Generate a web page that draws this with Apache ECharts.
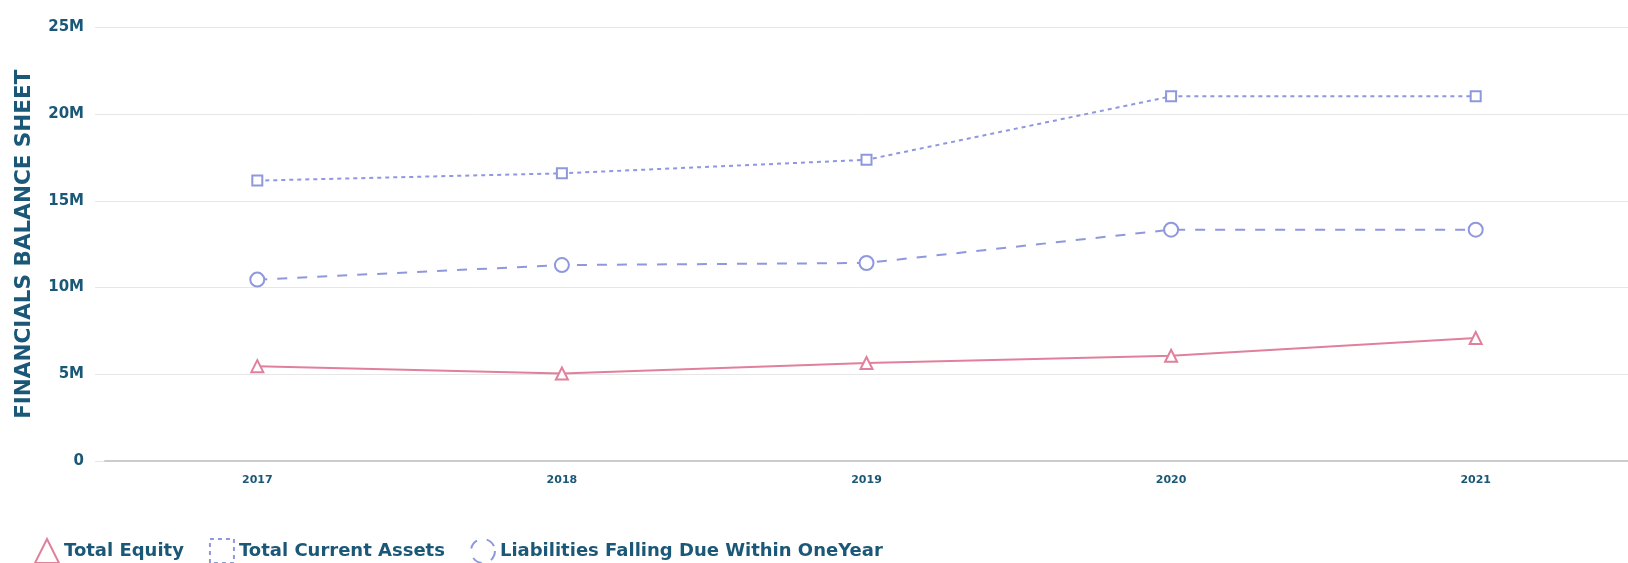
<!DOCTYPE html>
<html><head><meta charset="utf-8">
<script src="https://cdn.jsdelivr.net/npm/echarts@6/dist/echarts.min.js"></script>
<style>html,body{margin:0;padding:0;background:#fff}#c{width:1628px;height:563px}</style>
</head><body><div id="c"></div>
<script>
const categories = ['2017','2018','2019','2020','2021'];
const totalEquity = [5.47e6, 5.05e6, 5.65e6, 6.07e6, 7.09e6];
const totalCurrentAssets = [16.17e6, 16.59e6, 17.37e6, 21.03e6, 21.03e6];
const liabilities = [10.46e6, 11.3e6, 11.42e6, 13.34e6, 13.34e6];
const yTicks = [0, 5e6, 10e6, 15e6, 20e6, 25e6];

const txt = '#1b5877';
const pink = '#e0809c';
const blue = '#8f98dc';
const fmt = v => v === 0 ? '0' : (v/1e6) + 'M';
const chart = echarts.init(document.getElementById('c'));
chart.setOption({
  animation:false,
  grid:[
    {left:105,width:1527,top:27.5,bottom:102},
    {left:95,right:0,top:27.5,bottom:102}
  ],
  xAxis:[
    {type:'category',data:categories,gridIndex:0,boundaryGap:true,
     axisLine:{lineStyle:{color:'#cccccc',width:2}},axisTick:{show:false},
     axisLabel:{color:txt,fontWeight:'bold',fontSize:11,margin:14,fontFamily:'DejaVu Sans'}},
    {type:'value',gridIndex:1,show:false,min:0,max:1}
  ],
  yAxis:[
    {type:'value',gridIndex:0,min:yTicks[0],max:yTicks[yTicks.length-1],interval:5e6,
     name:'FINANCIALS BALANCE SHEET',nameLocation:'middle',nameGap:70,
     nameTextStyle:{color:txt,fontWeight:'bold',fontSize:21.5,fontFamily:'DejaVu Sans'},
     axisLine:{show:false},axisTick:{show:false},splitLine:{show:false},
     axisLabel:{color:txt,fontWeight:'bold',fontSize:15,margin:21,formatter:fmt,fontFamily:'DejaVu Sans'}},
    {type:'value',gridIndex:1,min:yTicks[0],max:yTicks[yTicks.length-1],interval:5e6,
     axisLine:{show:false},axisTick:{show:false},axisLabel:{show:false},
     splitLine:{lineStyle:{color:'#e6e6e6',width:1}}}
  ],
  legend:{
    left:29,bottom:-6,itemWidth:24,itemHeight:24,itemGap:25,
    textStyle:{color:txt,fontWeight:'bold',fontSize:18,fontFamily:'DejaVu Sans'},
    data:[
      {name:'Total Equity',icon:'triangle',itemStyle:{color:'#fff',borderColor:pink,borderWidth:2}},
      {name:'Total Current Assets',icon:'rect',itemStyle:{color:'#fff',borderColor:blue,borderWidth:2,borderType:[4,4]}},
      {name:'Liabilities Falling Due Within OneYear',icon:'circle',itemStyle:{color:'#fff',borderColor:blue,borderWidth:2,borderType:[10,10]}}
    ]
  },
  series:[
    {name:'Total Equity',type:'line',data:totalEquity,xAxisIndex:0,yAxisIndex:0,
     symbol:'triangle',symbolSize:12,
     lineStyle:{color:pink,width:2},itemStyle:{color:'#fff',borderColor:pink,borderWidth:2}},
    {name:'Total Current Assets',type:'line',data:totalCurrentAssets,xAxisIndex:0,yAxisIndex:0,
     symbol:'rect',symbolSize:10,
     lineStyle:{color:blue,width:2,type:[4,4]},itemStyle:{color:'#fff',borderColor:blue,borderWidth:2}},
    {name:'Liabilities Falling Due Within OneYear',type:'line',data:liabilities,xAxisIndex:0,yAxisIndex:0,
     symbol:'circle',symbolSize:14,
     lineStyle:{color:blue,width:2,type:[10,10]},itemStyle:{color:'#fff',borderColor:blue,borderWidth:2}}
  ]
});
</script></body></html>
